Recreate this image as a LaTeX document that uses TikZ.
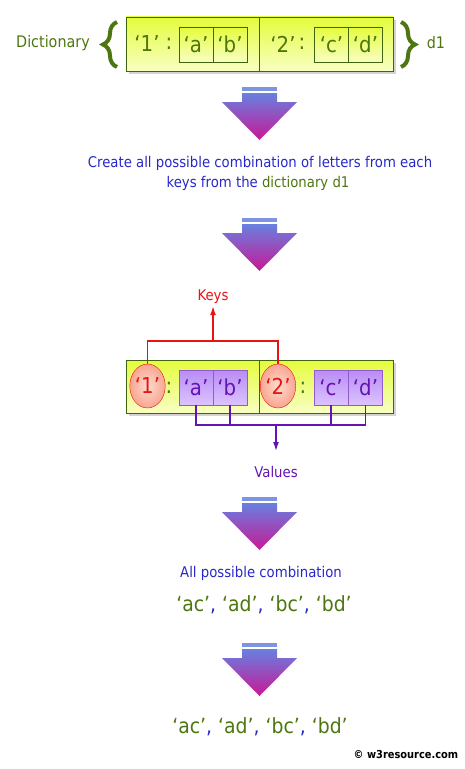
\documentclass[tikz,border=0pt]{standalone}
\usepackage{fontspec}
\setmainfont{DejaVu Sans}[FakeStretch=0.9]
\usetikzlibrary{shapes,arrows,arrows.meta,shadows,decorations.pathreplacing}
\definecolor{dictgreen}{RGB}{78,118,16}
\definecolor{textblue}{RGB}{40,40,200}
\definecolor{keyred}{RGB}{232,20,20}
\definecolor{valpurple}{RGB}{100,20,180}
\definecolor{boxtop}{RGB}{228,252,60}
\definecolor{boxbot}{RGB}{248,255,195}
\definecolor{arrtop}{RGB}{104,128,224}
\definecolor{arrbot}{RGB}{200,24,150}
\newcommand{\bigtxt}{\fontsize{22}{26}\selectfont}
\newcommand{\midtxt}{\fontsize{14.8}{17}\selectfont}
\tikzset{
	dictbox/.style  = {draw=dictgreen!85!black, top color=boxtop, bottom color=boxbot,
		minimum width=267bp, inner sep=0pt, drop shadow={opacity=0.35}},
	item/.style     = {draw=dictgreen!85!black, top color=boxtop, bottom color=boxbot,
		minimum width=34bp, minimum height=35bp, inner sep=0pt, text=dictgreen, font=\bigtxt},
	vitem/.style    = {draw=valpurple!70, top color={rgb,255:red,185;green,140;blue,245},
		bottom color={rgb,255:red,220;green,195;blue,255}, minimum width=34bp,
		minimum height=35bp, inner sep=0pt, text=valpurple, font=\bigtxt},
	keyell/.style   = {ellipse, draw=keyred, inner color={rgb,255:red,255;green,220;blue,205},
		outer color={rgb,255:red,248;green,165;blue,145}, minimum width=30bp,
		minimum height=44bp, inner sep=0pt, text=keyred, font=\bigtxt},
	sep/.style      = {text=dictgreen, font=\bigtxt, inner sep=0pt},
	keyline/.style  = {draw=keyred, line width=1.5bp},
	valline/.style  = {draw=valpurple, line width=1.5bp}
}
% flow arrow, #1 = top of the bar
\newcommand{\flowarrow}[1]{
	\fill[arrtop!85!white] (242,#1) rectangle (277,#1+4);
	\shade[top color=arrtop, bottom color=arrbot] (242,#1+6) -- (277,#1+6) -- (277,#1+15)
		-- (297,#1+15) -- (259.5,#1+53) -- (222,#1+15) -- (242,#1+15) -- cycle;
}

\begin{document}
\begin{tikzpicture}[x=1bp, y=-1bp, >={Latex[length=9bp,width=6bp]}]
	\useasboundingbox (0,0) rectangle (465,769);
	
	% dictionary d1
	\draw
	node at (259.5,44)[dictbox, minimum height=54bp] (dict) {}
	node at (147,44)[sep] (k1t) {‘1’}
	node at (169,44)[sep] (c1t) {:}
	node at (196,44.5)[item] (at) {‘a’}
	node at (230,44.5)[item] (bt) {‘b’}
	node at (283,44)[sep] (k2t) {‘2’}
	node at (302,44)[sep] (c2t) {:}
	node at (331.5,44.5)[item] (ct) {‘c’}
	node at (365.5,44.5)[item] (dt) {‘d’};
	\draw[dictgreen!85!black] (dict.north) -- (dict.south);
	\node[text=dictgreen, font=\fontsize{16}{19}\selectfont] (dictlbl) at (53,43) {Dictionary};
	\node[text=dictgreen, font=\fontsize{16}{19}\selectfont] (dname) at (436,43) {d1};
	\draw[dictgreen, line width=4bp, decorate, decoration={brace, amplitude=14bp}] (117,67) -- (117,22);
	\draw[dictgreen, line width=4bp, decorate, decoration={brace, amplitude=14bp}] (401,22) -- (401,67);
	
	\flowarrow{87}
	\node[text=textblue, font=\midtxt] (step1) at (260,163) {Create all possible combination of letters from each};
	\node[text=textblue, font=\midtxt] (step1b) at (258,183) {keys from the \textcolor{dictgreen}{dictionary d1}};
	
	\flowarrow{218}
	
	% keys and values
	\draw
	node at (259.5,386.5)[dictbox, minimum height=53bp] (pair) {}
	node at (147.5,386)[keyell] (k1) {‘1’}
	node at (169,388)[sep] (c1) {:}
	node at (196,387.5)[vitem] (va) {‘a’}
	node at (230,387.5)[vitem] (vb) {‘b’}
	node at (278,386)[keyell] (k2) {‘2’}
	node at (303,388)[sep] (c2) {:}
	node at (331,387.5)[vitem] (vc) {‘c’}
	node at (365.5,387.5)[vitem] (vd) {‘d’};
	\draw[dictgreen!85!black] (pair.north) -- (pair.south);
	
	\node[text=keyred, font=\midtxt, inner sep=2bp] (keys) at (213,297) {Keys};
	\coordinate (kj) at (213,341);
	\draw[keyline] (k1.north) |- (kj) -| (k2.north);
	\draw[keyline,->] (kj) -- (keys.south);
	
	\node[text=valpurple, font=\midtxt, inner sep=2bp] (values) at (276,472) {Values};
	\coordinate (vj) at (276,425);
	\draw[valline] (va.south) |- (vj) -| (vd.south);
	\draw[valline] (vb.south) -- (vb.south |- vj);
	\draw[valline] (vc.south) -- (vc.south |- vj);
	\draw[valline,->, shorten >=13bp] (vj) -- (values.north);
	
	\flowarrow{497}
	\node[text=textblue, font=\midtxt] (step3) at (261,573) {All possible combination};
	\node[text=dictgreen, font=\fontsize{21}{24}\selectfont] (comb1) at (264,605)
		{‘ac’\textcolor{textblue}{,} ‘ad’\textcolor{textblue}{,} ‘bc’\textcolor{textblue}{,} ‘bd’};
	
	\flowarrow{643}
	\node[text=dictgreen, font=\fontsize{21}{24}\selectfont] (comb2) at (260,727)
		{‘ac’\textcolor{textblue}{,} ‘ad’\textcolor{textblue}{,} ‘bc’\textcolor{textblue}{,} ‘bd’};
	
	\node[font=\bfseries\fontsize{11}{13}\selectfont] (copy) at (406,755) {© w3resource.com};
\end{tikzpicture}
\end{document}
